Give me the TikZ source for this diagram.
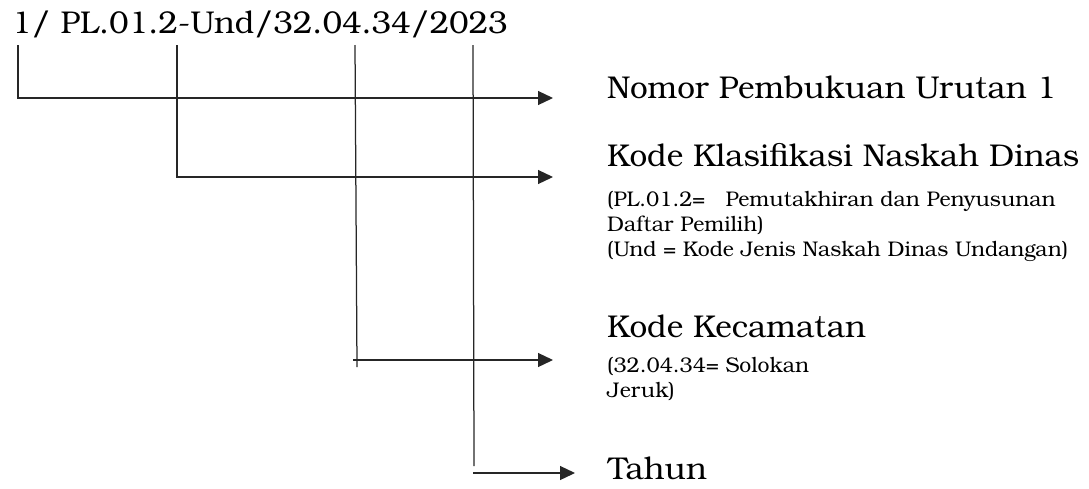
\documentclass[tikz,border=0pt]{standalone}
\usepackage{fontspec}
\setmainfont{TeX Gyre Bonum}
\usetikzlibrary{arrows.meta}
\begin{document}
\begin{tikzpicture}[x=1pt,y=-1pt,
  big/.style={anchor=base west,inner sep=0pt,font=\fontsize{31.5}{36}\selectfont},
  small/.style={anchor=base west,inner sep=0pt,font=\fontsize{21.2}{24}\selectfont},
  leader/.style={line width=1.25pt,draw=black!85},
  pointer/.style={leader,-{Triangle[length=15pt,width=14pt]}}]
\useasboundingbox (0,0) rectangle (1089,488);

% number being explained
\node[big] (code) at (12,33) {1/ PL.01.2-Und/32.04.34/2023};

% explanations
\node[big] (nomor) at (607,98) {Nomor Pembukuan Urutan 1};
\node[big] (klas) at (607,166) {Kode Klasifikasi Naskah Dinas};
\node[small] (klasA) at (607,206) {(PL.01.2=\ \ \ Pemutakhiran dan Penyusunan};
\node[small] (klasB) at (607,231) {Daftar Pemilih)};
\node[small] (klasC) at (607,256) {(Und = Kode Jenis Naskah Dinas Undangan)};
\node[big] (kec) at (607,337) {Kode Kecamatan};
\node[small] (kecA) at (607,372) {(32.04.34= Solokan};
\node[small] (kecB) at (607,397) {Jeruk)};
\node[big] (tahun) at (608,479) {Tahun};

% leader start points under the number
\coordinate (s1) at (18,45);
\coordinate (s2) at (177,45);
\coordinate (s3) at (355,45);
\coordinate (s4) at (473,45);

% arrow tips in front of the explanations
\coordinate (t1) at (553,98);
\coordinate (t2) at (553,177);
\coordinate (t3) at (553,360);
\coordinate (t4) at (575,473);

\draw[pointer] (s1) |- (t1);
\draw[pointer] (s2) |- (t2);
\draw[leader] (s3) -- (357,367);
\draw[pointer] (353,360) -- (t3);
\draw[leader] (s4) -- (474,466);
\draw[pointer] (473,473) -- (t4);
\end{tikzpicture}
\end{document}
